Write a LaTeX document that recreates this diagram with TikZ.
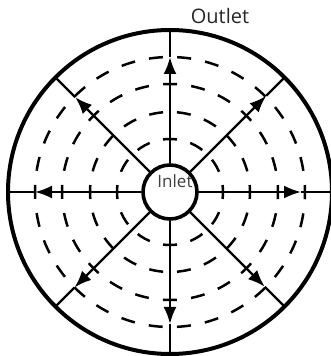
\documentclass[tikz,border=0pt]{standalone}
\usepackage{fontspec}
\setmainfont{Open Sans}
\usetikzlibrary{arrows.meta,calc}

\tikzset{
    rim/.style={line width=4pt},
    ring/.style={line width=2.5pt, dash pattern=on 14pt off #1, dash phase=7pt},
    spoke/.style={line width=2.4pt},
    flow/.style={line width=2.4pt, -{Latex[length=17pt,width=13pt]}}
}

\begin{document}
\begin{tikzpicture}[x=1pt,y=1pt]
    \useasboundingbox (0,0) rectangle (331,356);

    % ==========================================
    % Casing and inlet
    % ==========================================
    \coordinate (c) at (170,164);
    \draw[rim] (c) circle (162);
    \node[circle, draw, line width=3.6pt, minimum size=54pt, inner sep=0pt] (inlet) at (c) {};
    \node[text=black!75, font=\fontsize{17}{17}\selectfont, inner sep=0pt] (inlettext) at (175,175) {Inlet};
    \node[text=black!85, font=\fontsize{20}{20}\selectfont, inner sep=0pt] (outlet) at (220,340) {Outlet};

    % Dashed flow rings (12, 18, 24, 30 dashes)
    \draw[ring=13.75pt] (c) circle (53);
    \draw[ring=13.93pt] (c) circle (80);
    \draw[ring=14.27pt] (c) circle (108);
    \draw[ring=14.27pt] (c) circle (135);

    % ==========================================
    % Spokes: inner circle -> arrow tip -> casing
    % ==========================================
    \coordinate (t0) at ($(c)+(0:131)$);
    \coordinate (r0) at ($(c)+(0:163)$);
    \coordinate (t45) at ($(c)+(45:136)$);
    \coordinate (r45) at ($(c)+(45:163)$);
    \coordinate (t90) at ($(c)+(90:135)$);
    \coordinate (r90) at ($(c)+(90:163)$);
    \coordinate (t135) at ($(c)+(135:134)$);
    \coordinate (r135) at ($(c)+(135:163)$);
    \coordinate (t180) at ($(c)+(180:135)$);
    \coordinate (r180) at ($(c)+(180:163)$);
    \coordinate (t225) at ($(c)+(225:135)$);
    \coordinate (r225) at ($(c)+(225:163)$);
    \coordinate (t270) at ($(c)+(270:132)$);
    \coordinate (r270) at ($(c)+(270:163)$);
    \coordinate (t315) at ($(c)+(315:134)$);
    \coordinate (r315) at ($(c)+(315:163)$);

    \draw[flow] (inlet.0) -- (t0);     \draw[spoke] (t0) -- (r0);
    \draw[flow] (inlet.45) -- (t45);   \draw[spoke] (t45) -- (r45);
    \draw[flow] (inlet.90) -- (t90);   \draw[spoke] (t90) -- (r90);
    \draw[flow] (inlet.135) -- (t135); \draw[spoke] (t135) -- (r135);
    \draw[flow] (inlet.180) -- (t180); \draw[spoke] (t180) -- (r180);
    \draw[flow] (inlet.225) -- (t225); \draw[spoke] (t225) -- (r225);
    \draw[flow] (inlet.270) -- (t270); \draw[spoke] (t270) -- (r270);
    \draw[flow] (inlet.315) -- (t315); \draw[spoke] (t315) -- (r315);
\end{tikzpicture}
\end{document}
